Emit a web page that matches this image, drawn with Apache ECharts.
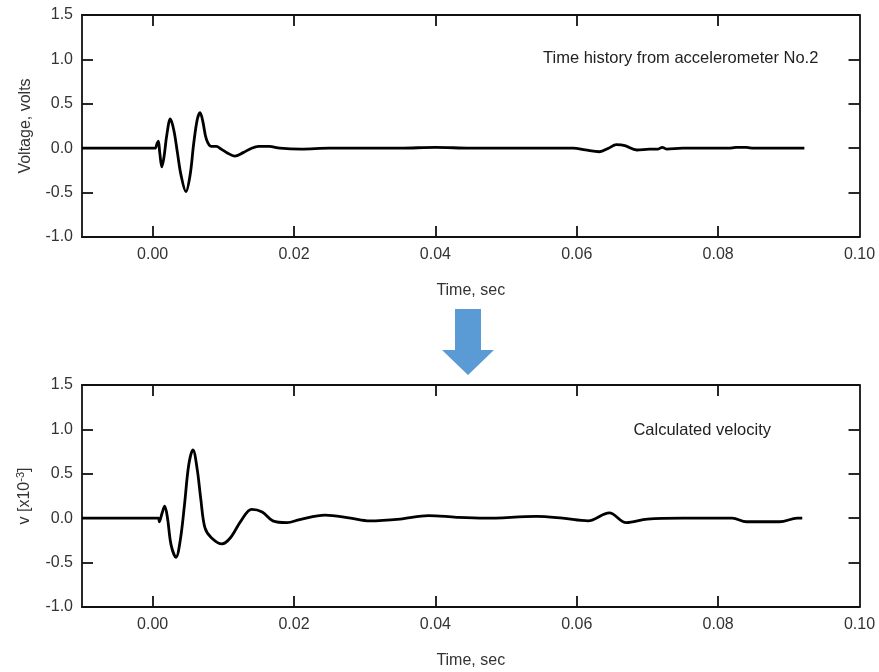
<!DOCTYPE html>
<html>
<head>
<meta charset="utf-8">
<script src="https://cdn.jsdelivr.net/npm/echarts@6/dist/echarts.min.js"></script>
<style>html,body{margin:0;padding:0;background:#fff}#c{width:879px;height:672px}</style>
</head>
<body>
<div id="c"></div>
<script>
// Top: voltage time history (accelerometer No.2)
var tVolt = [-0.01, 0.0003, 0.0006, 0.0008, 0.0010, 0.0013, 0.0016, 0.0020, 0.0025, 0.0030, 0.0035, 0.0040, 0.0047, 0.0053, 0.0058, 0.0063, 0.0067, 0.0071, 0.0076, 0.0083, 0.0090, 0.0097, 0.0105, 0.0116, 0.0128, 0.0140, 0.0150, 0.0165, 0.018, 0.021, 0.025, 0.03, 0.035, 0.04, 0.045, 0.05, 0.055, 0.0595, 0.0612, 0.0632, 0.0645, 0.0656, 0.0668, 0.0685, 0.0703, 0.0715, 0.0721, 0.0727, 0.075, 0.0815, 0.0825, 0.0840, 0.0850, 0.0922];
var vVolt = [0, 0, 0.05, 0.08, -0.05, -0.21, -0.1, 0.15, 0.33, 0.2, -0.05, -0.3, -0.49, -0.3, 0.05, 0.32, 0.40, 0.3, 0.1, 0.02, 0.02, -0.01, -0.05, -0.09, -0.05, 0.0, 0.02, 0.02, 0.0, -0.01, 0, 0, 0, 0.01, 0, 0, 0, 0, -0.02, -0.04, 0.0, 0.04, 0.03, -0.02, -0.01, -0.01, 0.01, -0.01, 0, 0, 0.01, 0.01, 0, 0];
// Bottom: calculated velocity
var tVel = [-0.01, 0.0008, 0.00094, 0.0013, 0.0017, 0.0021, 0.0026, 0.0033, 0.0039, 0.0045, 0.0051, 0.0057, 0.0063, 0.0068, 0.0074, 0.0083, 0.0098, 0.0110, 0.0125, 0.0140, 0.0155, 0.017, 0.019, 0.0208, 0.0244, 0.028, 0.0307, 0.035, 0.039, 0.043, 0.047, 0.0543, 0.058, 0.0616, 0.0646, 0.067, 0.070, 0.075, 0.082, 0.084, 0.0887, 0.0912, 0.0919];
var vVel = [0, 0, -0.04, 0.05, 0.135, 0.0, -0.3, -0.44, -0.25, 0.15, 0.6, 0.77, 0.55, 0.22, -0.11, -0.22, -0.29, -0.22, -0.03, 0.10, 0.07, -0.03, -0.05, -0.015, 0.035, 0.0, -0.03, -0.01, 0.03, 0.01, 0.0, 0.02, 0.0, -0.03, 0.06, -0.05, -0.01, 0.0, 0.0, -0.04, -0.04, 0.0, 0.0];
var xTickValues = [0, 0.02, 0.04, 0.06, 0.08];
var xLabelValues = [0, 0.02, 0.04, 0.06, 0.08, 0.10];
var yTickValues = [-0.5, 0, 0.5, 1.0];
var yLabelValues = [-1.0, -0.5, 0, 0.5, 1.0, 1.5];

function pairs(t, v) { return t.map(function (x, i) { return [x, v[i]]; }); }

var FONT = 'Liberation Sans';
var TXT = '#333';
var lineStyle = { color: '#111', width: 1.8 };

function xAx(grid, pos, withLabel, name) {
  return {
    type: 'value', gridIndex: grid, position: pos, min: -0.01, max: 0.10,
    axisLine: { onZero: false, lineStyle: lineStyle },
    axisTick: { show: true, inside: true, length: 11, customValues: xTickValues, lineStyle: lineStyle },
    axisLabel: { show: withLabel, customValues: xLabelValues, margin: 10, color: TXT, fontFamily: FONT, fontSize: 16,
      formatter: function (v) { return v.toFixed(2); } },
    splitLine: { show: false },
    name: name || '', nameLocation: 'middle', nameGap: 46,
    nameTextStyle: { color: TXT, fontFamily: FONT, fontSize: 16 }
  };
}
function yAx(grid, pos, withLabel, name, rich) {
  return {
    type: 'value', gridIndex: grid, position: pos, min: -1, max: 1.5, interval: 0.5,
    axisLine: { onZero: false, lineStyle: lineStyle },
    axisTick: { show: true, inside: true, length: 11, customValues: yTickValues, lineStyle: lineStyle },
    axisLabel: { show: withLabel, customValues: yLabelValues, margin: 9, color: TXT, fontFamily: FONT, fontSize: 16,
      formatter: function (v) { return v.toFixed(1); } },
    splitLine: { show: false },
    name: name || '', nameLocation: 'middle', nameGap: 48, nameRotate: 90,
    nameTextStyle: { color: TXT, fontFamily: FONT, fontSize: 16, rich: rich || {} }
  };
}

var chart = echarts.init(document.getElementById('c'));
chart.setOption({
  backgroundColor: '#fff',
  animation: false,
  grid: [
    { left: 82, right: 19.5, top: 15, height: 222 },
    { left: 82, right: 19.5, top: 385, height: 222 }
  ],
  xAxis: [
    xAx(0, 'bottom', true, 'Time, sec'),
    xAx(0, 'top', false),
    xAx(1, 'bottom', true, 'Time, sec'),
    xAx(1, 'top', false)
  ],
  yAxis: [
    yAx(0, 'left', true, 'Voltage, volts'),
    yAx(0, 'right', false),
    yAx(1, 'left', true, 'v [x10{sup|-3}]', { sup: { fontSize: 11, verticalAlign: 'top', padding: [0, 0, 8, 0], color: TXT, fontFamily: FONT } }),
    yAx(1, 'right', false)
  ],
  series: [
    { type: 'line', xAxisIndex: 0, yAxisIndex: 0, data: pairs(tVolt, vVolt), showSymbol: false, smooth: 0.35,
      lineStyle: { color: '#000', width: 2.8 } },
    { type: 'line', xAxisIndex: 2, yAxisIndex: 2, data: pairs(tVel, vVel), showSymbol: false, smooth: 0.35,
      lineStyle: { color: '#000', width: 2.8 } }
  ],
  graphic: [
    { type: 'text', left: 543, top: 50, style: { text: 'Time history from accelerometer No.2', fill: '#222', font: '16.5px "Liberation Sans"' } },
    { type: 'text', right: 108, top: 422, style: { text: 'Calculated velocity', fill: '#222', font: '16.5px "Liberation Sans"' } },
    { type: 'polygon', shape: { points: [[455, 309], [481, 309], [481, 350], [494, 350], [468, 375], [442, 350], [455, 350]] },
      style: { fill: '#5b9bd5' } }
  ]
});
</script>
</body>
</html>
